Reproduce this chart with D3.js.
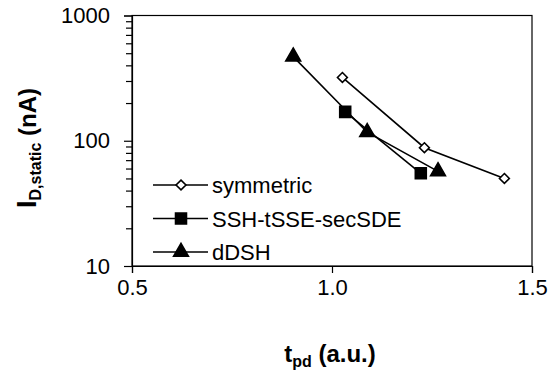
<!DOCTYPE html>
<html lang="en">

<head>
    <meta charset="UTF-8">
    <title>I_D,static vs t_pd</title>
    <style>
        body { margin: 0; background: #fff; }
        svg { font-family: "Liberation Sans", Arial, sans-serif; }
    </style>
</head>

<body>
    <div id="chart"></div>

    <script src="https://cdnjs.cloudflare.com/ajax/libs/d3/7.8.5/d3.min.js"></script>
    <script>
        // data
        const seriesNames = ["symmetric", "SSH-tSSE-secSDE", "dDSH"];
        const symmetricX = [1.026, 1.231, 1.431];
        const symmetricY = [320, 88, 50];
        const sshX = [1.033, 1.222];
        const sshY = [170, 55];
        const ddshX = [0.903, 1.088, 1.265];
        const ddshY = [470, 117, 57];
        const xTicks = [0.5, 1.0, 1.5];
        const yTicks = [10, 100, 1000];

        const W = 554, H = 373;
        const m = { left: 132, right: 22, top: 15.5, bottom: 107 };

        const svg = d3.select("#chart").append("svg")
            .attr("width", W)
            .attr("height", H);

        const x = d3.scaleLinear().domain([0.5, 1.5]).range([m.left, W - m.right]);
        const y = d3.scaleLog().domain([10, 1000]).range([H - m.bottom, m.top]);

        // frame
        svg.append("rect")
            .attr("x", x(0.5)).attr("y", y(1000))
            .attr("width", x(1.5) - x(0.5)).attr("height", y(10) - y(1000))
            .attr("fill", "none").attr("stroke", "#000").attr("stroke-width", 1.2);

        // x axis
        const xAxis = svg.append("g")
            .attr("transform", `translate(0,${y(10)})`)
            .call(d3.axisBottom(x).tickValues(xTicks).tickFormat(d3.format(".1f")).tickSize(7).tickPadding(6));
        xAxis.select(".domain").attr("stroke-width", 1.2);
        xAxis.selectAll("line").attr("stroke-width", 1.2);
        xAxis.selectAll("text").attr("font-size", 22).attr("fill", "#000")
            .attr("font-family", "Liberation Sans, Arial, sans-serif");

        // y axis, minor ticks first
        const minor = [];
        for (let d = 1; d <= 2; d++)
            for (let k = 2; k <= 9; k++) minor.push(k * Math.pow(10, d));
        svg.append("g")
            .attr("transform", `translate(${x(0.5)},0)`)
            .call(d3.axisLeft(y).tickValues(minor).tickFormat("").tickSize(6))
            .call(g => g.select(".domain").remove())
            .selectAll("line").attr("stroke-width", 1.2);

        const yAxis = svg.append("g")
            .attr("transform", `translate(${x(0.5)},0)`)
            .call(d3.axisLeft(y).tickValues(yTicks).tickFormat(d3.format("d")).tickSize(8).tickPadding(14));
        yAxis.select(".domain").attr("stroke-width", 1.2);
        yAxis.selectAll("line").attr("stroke-width", 1.2);
        yAxis.selectAll("text").attr("font-size", 22).attr("fill", "#000")
            .attr("font-family", "Liberation Sans, Arial, sans-serif");

        // marker shapes
        const diamond = d3.symbol().type(d3.symbolDiamond2).size(62);
        const square = d3.symbol().type(d3.symbolSquare).size(120);
        const triangle = d3.symbol().type(d3.symbolTriangle).size(95);

        const series = [
            { name: seriesNames[0], xs: symmetricX, ys: symmetricY, shape: diamond, fill: "#fff" },
            { name: seriesNames[1], xs: sshX, ys: sshY, shape: square, fill: "#000" },
            { name: seriesNames[2], xs: ddshX, ys: ddshY, shape: triangle, fill: "#000" }
        ];

        const line = d3.line().x(d => x(d[0])).y(d => y(d[1]));

        series.forEach(s => {
            const pts = s.xs.map((v, i) => [v, s.ys[i]]);
            svg.append("path")
                .datum(pts)
                .attr("d", line)
                .attr("fill", "none")
                .attr("stroke", "#000")
                .attr("stroke-width", 1.6);
            svg.selectAll(null)
                .data(pts)
                .enter().append("path")
                .attr("d", s.shape)
                .attr("transform", d => `translate(${x(d[0])},${y(d[1])})`)
                .attr("fill", s.fill)
                .attr("stroke", "#000")
                .attr("stroke-width", 1.6);
        });

        // legend
        const legend = svg.append("g");
        series.forEach((s, i) => {
            const ly = 185 + i * 33.5;
            legend.append("line")
                .attr("x1", 153).attr("x2", 208)
                .attr("y1", ly).attr("y2", ly)
                .attr("stroke", "#000").attr("stroke-width", 1.6);
            legend.append("path")
                .attr("d", s.shape)
                .attr("transform", `translate(181,${ly})`)
                .attr("fill", s.fill)
                .attr("stroke", "#000")
                .attr("stroke-width", 1.6);
            legend.append("text")
                .attr("x", 212).attr("y", ly + 8)
                .attr("font-size", 22)
                .text(s.name);
        });

        // axis titles
        const xt = svg.append("text")
            .attr("x", 330).attr("y", 362)
            .attr("text-anchor", "middle")
            .attr("font-size", 24)
            .attr("font-weight", "bold");
        xt.append("tspan").text("t");
        xt.append("tspan").attr("font-size", 16).attr("dy", 5).text("pd");
        xt.append("tspan").attr("dy", -5).text(" (a.u.)");

        const yt = svg.append("text")
            .attr("transform", "translate(36,148) rotate(-90)")
            .attr("text-anchor", "middle")
            .attr("font-size", 24)
            .attr("font-weight", "bold");
        yt.append("tspan").attr("font-size", 27).text("I");
        yt.append("tspan").attr("font-size", 16).attr("dy", 5).text("D,static");
        yt.append("tspan").attr("dy", -5).text(" (nA)");
    </script>
</body>

</html>
